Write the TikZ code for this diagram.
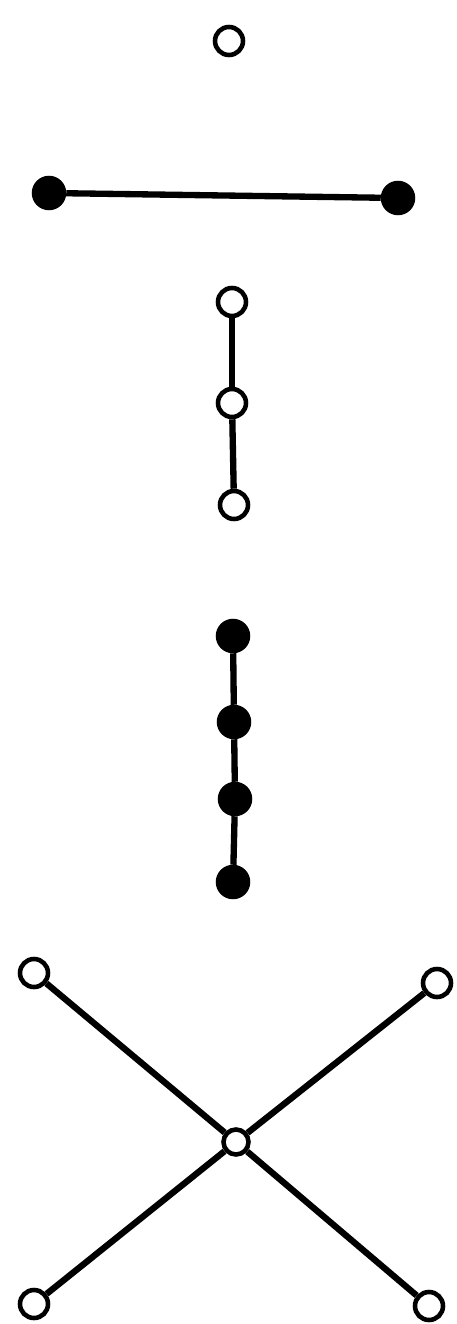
\documentclass[tikz,border=0pt]{standalone}
\usepackage{tikz}

\begin{document}
\begin{tikzpicture}[
    x=0.02cm, y=-0.02cm,
    opennode/.style={draw, circle, line width=2.6pt, fill=white, minimum size=0.56cm, inner sep=0pt},
    fullnode/.style={draw, circle, line width=2pt, fill=black, minimum size=0.62cm, inner sep=0pt},
    bond/.style={line width=3.6pt},
]
\useasboundingbox (0,0) rectangle (456,1324);

% Row 0: single open node
\node[opennode] (single) at (229,41) {};

% Row 1: two filled nodes, horizontal bond
\node[fullnode] (pairL) at (49,193) {};
\node[fullnode] (pairR) at (398,198) {};
\draw[bond] (pairL) -- (pairR);

% Row 2: chain of three open nodes
\node[opennode] (triA) at (232,302) {};
\node[opennode] (triB) at (232,403) {};
\node[opennode] (triC) at (234,505) {};
\draw[bond] (triA) -- (triB);
\draw[bond] (triB) -- (triC);

% Row 3: chain of four filled nodes
\node[fullnode] (quadA) at (233,636) {};
\node[fullnode] (quadB) at (234,722) {};
\node[fullnode] (quadC) at (235,799) {};
\node[fullnode] (quadD) at (233,882) {};
\draw[bond] (quadA) -- (quadB);
\draw[bond] (quadB) -- (quadC);
\draw[bond] (quadC) -- (quadD);

% Row 4: star with open centre
\node[opennode, minimum size=0.5cm] (hub) at (236,1142) {};
\node[opennode] (armTL) at (34,973) {};
\node[opennode] (armTR) at (437,983) {};
\node[opennode] (armBL) at (34,1304) {};
\node[opennode] (armBR) at (429,1306) {};
\draw[bond] (hub) -- (armTL);
\draw[bond] (hub) -- (armTR);
\draw[bond] (hub) -- (armBL);
\draw[bond] (hub) -- (armBR);

\end{tikzpicture}
\end{document}
